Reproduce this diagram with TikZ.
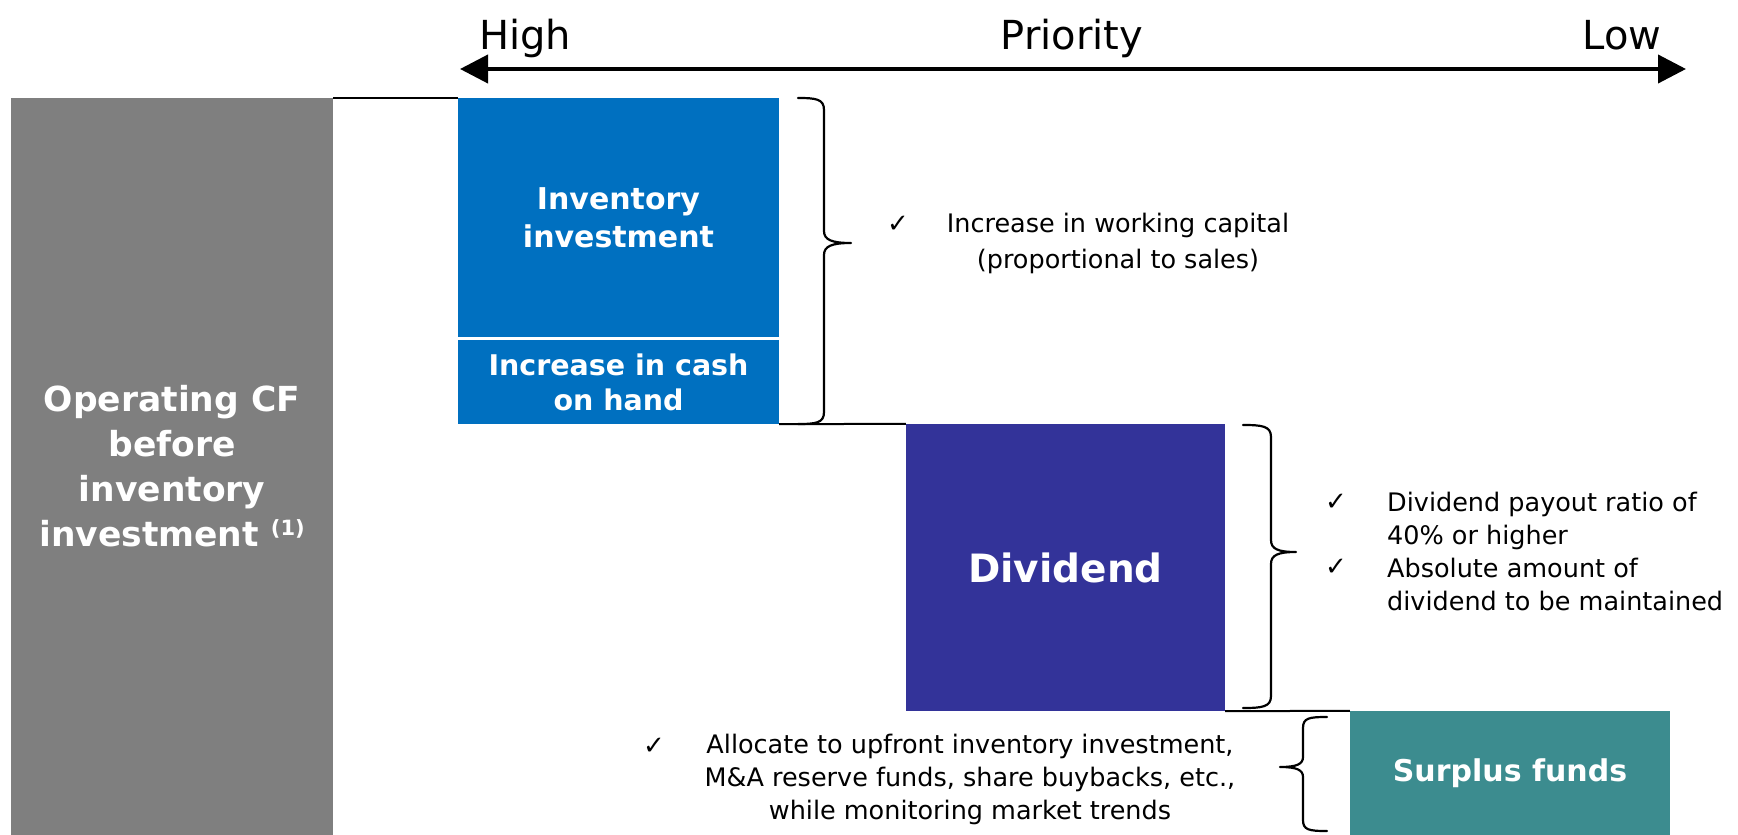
\documentclass[tikz,border=0pt]{standalone}
\usepackage{fontspec}
\setmainfont{DejaVu Sans}
\usetikzlibrary{arrows.meta}
\definecolor{cfgray}{HTML}{7F7F7F}
\definecolor{invblue}{HTML}{0070C0}
\definecolor{divblue}{HTML}{333399}
\definecolor{surpteal}{HTML}{3C8C8F}
\begin{document}
\begin{tikzpicture}[x=1pt,y=-1pt,
  box/.style={draw=none, inner sep=0pt, text=white, align=center},
  body/.style={inner sep=0pt, font=\fontsize{25.5}{33}\selectfont, align=center},
  head/.style={inner sep=0pt, anchor=base, font=\fontsize{40}{48}\selectfont},
  chk/.style={inner sep=0pt, font=\fontsize{26}{26}\selectfont},
  conn/.style={line width=2pt, black},
  brace/.style={line width=2.2pt, black, line join=round, line cap=round},
  prio/.style={line width=4pt, {Triangle[length=28pt,width=28pt]}-{Triangle[length=28pt,width=28pt]}}]
\useasboundingbox (0,0) rectangle (1738,835);

% header
\coordinate (aL) at (460,69);
\coordinate (aR) at (1686,69);
\draw[prio] (aL) -- (aR);
\node[head] (high) at (525,49) {High};
\node[head] (prio) at (1072,49) {Priority};
\node[head] (low) at (1622,49) {Low};

% boxes
\node[box, fill=cfgray, minimum width=322pt, minimum height=737pt,
      font=\bfseries\fontsize{34.5}{45}\selectfont] (cf) at (172,466.5)
  {Operating CF\\before\\inventory\\investment {\fontsize{21}{21}\selectfont\raisebox{11pt}{(1)}}};
\node[box, fill=invblue, minimum width=321pt, minimum height=239pt,
      font=\bfseries\fontsize{30}{38}\selectfont] (inv) at (618.5,217.5)
  {Inventory\\investment};
\node[box, fill=invblue, minimum width=321pt, minimum height=84pt,
      font=\bfseries\fontsize{28.5}{35}\selectfont] (cash) at (618.5,382)
  {Increase in cash\\on hand};
\node[box, fill=divblue, minimum width=319pt, minimum height=287pt,
      font=\bfseries\fontsize{39}{47}\selectfont] (div) at (1065.5,567.5)
  {Dividend};
\node[box, fill=surpteal, minimum width=320pt, minimum height=124pt,
      font=\bfseries\fontsize{30}{38}\selectfont] (surp) at (1510,773)
  {Surplus funds};

% connectors
\draw[conn] (cf.north east) -- (inv.north west);
\draw[conn] (cash.south east) -- (div.north west);
\draw[conn] (div.south east) -- (surp.north west);

% braces
\draw[brace] (798,98) .. controls (816,98) and (824,99) .. (824,110) -- (824,231)
  .. controls (824,240) and (832,243) .. (851,243)
  .. controls (832,243) and (824,246) .. (824,255) -- (824,412)
  .. controls (824,423) and (816,424) .. (798,424);
\draw[brace] (1243,425) .. controls (1262,425) and (1271,426) .. (1271,437) -- (1271,540)
  .. controls (1271,549) and (1278,552) .. (1296,552)
  .. controls (1278,552) and (1271,555) .. (1271,564) -- (1271,696)
  .. controls (1271,707) and (1262,708) .. (1243,708);
\draw[brace] (1327,717) .. controls (1309,717) and (1303,718) .. (1303,728) -- (1303,757)
  .. controls (1303,764) and (1297,767) .. (1280,767)
  .. controls (1297,767) and (1303,770) .. (1303,777) -- (1303,820)
  .. controls (1303,830) and (1309,831) .. (1327,831);

% texts
\node[chk] (c1) at (898,224) {✓};
\node[body, font=\fontsize{25.5}{36}\selectfont] (t1) at (1118,243)
  {Increase in working capital\\(proportional to sales)};
\node[chk] (c2) at (1336,502) {✓};
\node[chk] (c3) at (1336,567) {✓};
\node[body, align=left, anchor=west] (t2) at (1387,551)
  {Dividend payout ratio of\\40\% or higher\\Absolute amount of\\dividend to be maintained};
\node[chk] (c4) at (654,746) {✓};
\node[body] (t3) at (970,779)
  {Allocate to upfront inventory investment,\\M\&A reserve funds, share buybacks, etc.,\\while monitoring market trends};
\end{tikzpicture}
\end{document}
